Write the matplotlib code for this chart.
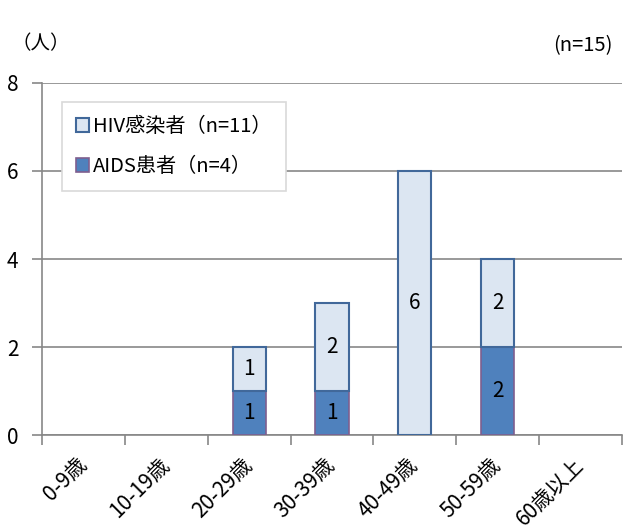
import matplotlib.pyplot as plt
import numpy as np

plt.rcParams['font.family'] = ['Noto Sans CJK JP', 'DejaVu Sans']

# データ
categories = ['0-9歳', '10-19歳', '20-29歳', '30-39歳', '40-49歳', '50-59歳', '60歳以上']
aids = [0, 0, 1, 1, 0, 2, 0]
hiv = [0, 0, 1, 2, 6, 2, 0]

fig = plt.figure(figsize=(6.25, 5.32), dpi=100)
ax = fig.add_axes([0.0672, 0.1823, 0.9278, 0.6617])

x = np.arange(len(categories))
w = 0.4
# 0の棒は枠線を描かない
b1 = ax.bar(x, aids, w, color='#4F81BD', edgecolor='#7F5F8F',
            linewidth=[1.2 if v else 0 for v in aids],
            label='AIDS患者（n=4）', zorder=3)
b2 = ax.bar(x, hiv, w, bottom=aids, color='#DCE6F2', edgecolor='#41689A',
            linewidth=[1.5 if v else 0 for v in hiv],
            label='HIV感染者（n=11）', zorder=3)

# 数値ラベル
for i in range(len(categories)):
    if aids[i] > 0:
        ax.text(x[i], aids[i] / 2, str(aids[i]), ha='center', va='center', fontsize=15, zorder=4)
    if hiv[i] > 0:
        ax.text(x[i], aids[i] + hiv[i] / 2, str(hiv[i]), ha='center', va='center', fontsize=15, zorder=4)

ax.set_xlim(-0.5, len(categories) - 0.5)
ax.set_ylim(0, 8)
ax.set_yticks([0, 2, 4, 6, 8])
ax.yaxis.grid(True, color='#878787', linewidth=1.2, zorder=0)

ax.set_xticks(x)
ax.set_xticklabels(categories, rotation=45, ha='right', va='center', rotation_mode='anchor', fontsize=15)
ax.set_xticks(np.arange(len(categories) + 1) - 0.5, minor=True)
ax.tick_params(axis='x', which='major', length=0, pad=19)
ax.tick_params(axis='x', which='minor', length=7, color='#878787', width=1.2)
ax.tick_params(axis='y', length=7, color='#878787', width=1.2, labelsize=15, pad=10)

for s in ['top', 'right']:
    ax.spines[s].set_visible(False)
for s in ['left', 'bottom']:
    ax.spines[s].set_color('#878787')
    ax.spines[s].set_linewidth(1.2)

leg = ax.legend(handles=[b2, b1], loc='upper left', bbox_to_anchor=(0.017, 0.975),
                fontsize=14.5, fancybox=False, handlelength=0.65, handleheight=0.65,
                handletextpad=0.2, labelspacing=0.95, borderpad=0.7, framealpha=1)
leg.get_frame().set_edgecolor('#D9D9D9')
leg.get_frame().set_linewidth(1.2)
leg.legend_handles[0].set_linewidth(1.5)
leg.legend_handles[1].set_linewidth(1.2)

fig.text(0.018, 0.918, '（人）', fontsize=14, va='center')
fig.text(0.98, 0.914, '(n=15)', fontsize=14.5, va='center', ha='right')

fig.savefig('out.png', dpi=100)
